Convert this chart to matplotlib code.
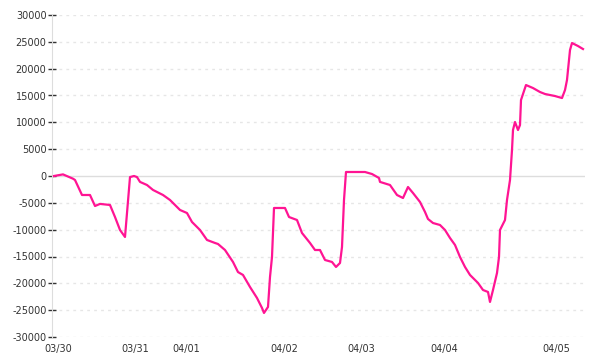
import matplotlib
matplotlib.use("Agg")
import matplotlib.pyplot as plt

# sample position (half-pixel-ish time steps) and value
t = [0, 4.5, 9.5, 10.5, 14, 18, 20.5, 23, 28, 30.5, 33, 35.5, 36.5, 38, 40, 41.5,
     43, 46.5, 49.5, 54.5, 58, 63, 66.5, 69, 73, 76.5, 80.5, 82, 85.5, 89.5, 92,
     94.5, 98, 101.5, 104, 105, 107, 108, 109, 110, 115.5, 117.5, 121.5, 124, 128,
     130.5, 133, 135.5, 139, 141, 143, 144, 145, 146, 155.5, 159, 162.5, 163, 168,
     171.5, 174.5, 177, 179.5, 183, 185.5, 187, 189.5, 193, 195.5, 198, 200.5, 203,
     205.5, 208, 212, 214.5, 217, 218, 219.5, 221.5, 222.5, 223, 225.5, 226.5, 228,
     229, 229.5, 230.5, 232, 233, 233.5, 236, 239.5, 243, 245.5, 250.5, 254, 255.5,
     256.5, 258, 259, 262, 264.5]
vals = [0, 300, -500, -745, -3540, -3540, -5590, -5200, -5400, -7640, -10060, -11360,
        -6900, -200, 0, -200, -1100, -1680, -2600, -3540, -4470, -6330, -6900, -8570,
        -10060, -11920, -12480, -12670, -13790, -16020, -17900, -18440, -20680, -22730,
        -24590, -25520, -24400, -18820, -15090, -5960, -5960, -7640, -8200, -10620,
        -12480, -13790, -13790, -15650, -16020, -16950, -16210, -13230, -4470, 745,
        745, 370, -370, -1100, -1680, -3540, -4100, -2050, -3170, -4840, -6700, -8010,
        -8760, -9130, -10060, -11550, -12850, -15090, -16950, -18440, -19930, -21240,
        -21610, -23470, -21240, -18070, -15090, -10060, -8200, -4470, -745, 4840, 8570,
        10060, 8570, 9500, 14160, 16950, 16390, 15650, 15280, 14900, 14530, 16020,
        17890, 23470, 24780, 24220, 23660]

day_pos = [2, 40.5, 66, 115, 153.5, 195, 251]
day_labels = ["03/30", "03/31", "04/01", "04/02", "04/03", "04/04", "04/05"]
yticks = list(range(-30000, 30001, 5000))

fig = plt.figure(figsize=(6, 3.6), dpi=100)
ax = fig.add_axes([52 / 600, 23 / 360, 533 / 600, 322 / 360])

for y in yticks:
    if y == 0:
        ax.axhline(0, color="#dddddd", lw=1, zorder=1)
    else:
        ax.axhline(y, color="#e6e6e6", lw=1, ls=(0, (2, 3)), zorder=1)

ax.plot(t, vals, color="#ff1493", lw=1.6, zorder=3)

ax.set_xlim(-1, 265.5)
ax.set_ylim(-30000, 30000)
ax.set_yticks(yticks)
ax.set_yticklabels([str(y) for y in yticks])
ax.set_xticks(day_pos)
ax.set_xticklabels(day_labels)

for s in ["top", "right", "bottom"]:
    ax.spines[s].set_visible(False)
ax.spines["left"].set_color("#dddddd")

ax.tick_params(axis="y", direction="inout", length=6, width=1, color="#333333",
               labelsize=7, labelcolor="#333333", pad=1)
ax.tick_params(axis="x", length=0, labelsize=7, labelcolor="#333333", pad=5)

fig.savefig("out.png", dpi=100)
